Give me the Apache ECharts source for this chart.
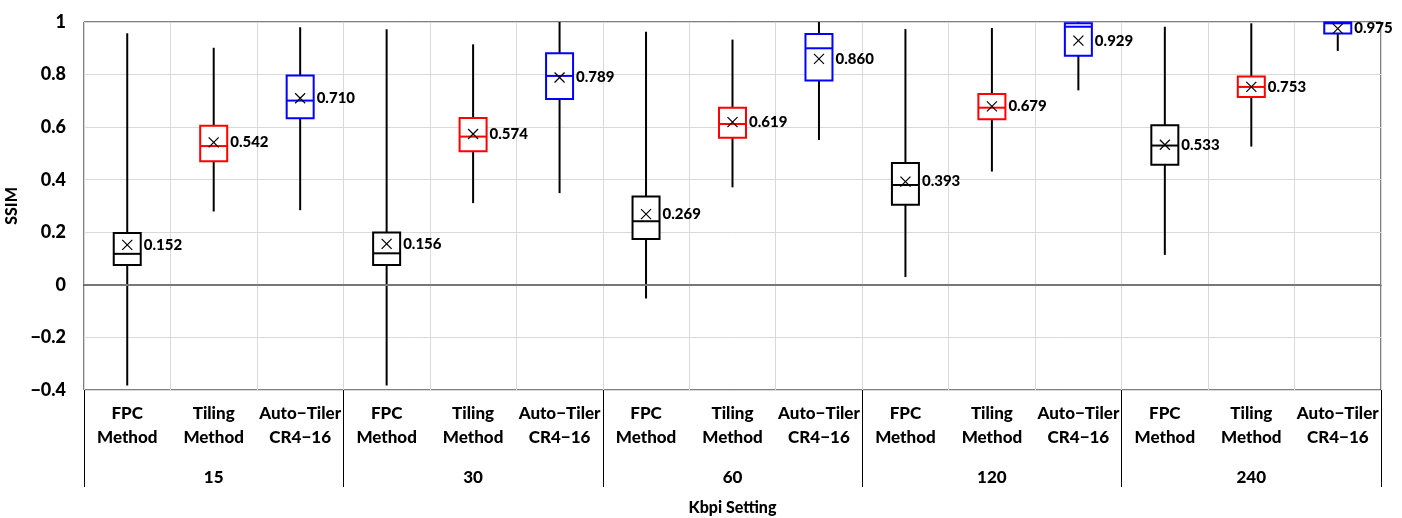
<!DOCTYPE html>
<html>
<head>
<meta charset="utf-8">
<script src="https://cdn.jsdelivr.net/npm/echarts@6/dist/echarts.min.js"></script>
<style>
  html, body { margin: 0; padding: 0; background: #fff; }
  #chart { width: 1402px; height: 518px; }
</style>
</head>
<body>
<div id="chart"></div>
<script>
// categories: 5 kbpi settings x 3 methods
var methods = ['FPC\nMethod', 'Tiling\nMethod', 'Auto\u2212Tiler\nCR4\u221216'];
var groups = ['15', '30', '60', '120', '240'];
var methodColors = ['#000000', '#ff0000', '#0000ff'];

// box statistics, one value per box (15 boxes)
var mins    = [-0.383, 0.279, 0.284, -0.383, 0.311, 0.349, -0.052, 0.371, 0.551, 0.030, 0.431, 0.740, 0.114, 0.526, 0.890];
var q1s     = [0.076, 0.470, 0.634, 0.076, 0.508, 0.707, 0.174, 0.560, 0.777, 0.305, 0.630, 0.872, 0.457, 0.715, 0.956];
var medians = [0.118, 0.528, 0.701, 0.120, 0.564, 0.795, 0.242, 0.612, 0.900, 0.380, 0.674, 0.982, 0.530, 0.753, 0.995];
var q3s     = [0.197, 0.605, 0.796, 0.199, 0.635, 0.881, 0.336, 0.674, 0.954, 0.464, 0.726, 0.995, 0.607, 0.793, 0.998];
var maxs    = [0.957, 0.902, 0.980, 0.972, 0.915, 1.000, 0.963, 0.933, 1.000, 0.973, 0.977, 1.000, 0.982, 0.995, 1.000];
var means   = [0.152, 0.542, 0.710, 0.156, 0.574, 0.789, 0.269, 0.619, 0.860, 0.393, 0.679, 0.929, 0.533, 0.753, 0.975];

var categories = [];
groups.forEach(function () {
    methods.forEach(function (m) { categories.push(m); });
});

var boxData = [];
for (var i = 0; i < categories.length; i++) {
    boxData.push([i, mins[i], q1s[i], medians[i], q3s[i], maxs[i], means[i]]);
}

var FONT = 'Lato';

var myChart = echarts.init(document.getElementById('chart'));

function renderBox(params, api) {
    var idx = api.value(0);
    var color = methodColors[idx % 3];
    var pMin = api.coord([idx, api.value(1)]);
    var pQ1 = api.coord([idx, api.value(2)]);
    var pMed = api.coord([idx, api.value(3)]);
    var pQ3 = api.coord([idx, api.value(4)]);
    var pMax = api.coord([idx, api.value(5)]);
    var pMean = api.coord([idx, api.value(6)]);
    var x = pMed[0];
    var hw = 13.5;
    var xs = 5; // half size of the mean cross
    return {
        type: 'group',
        children: [
            {//whisker
                type: 'line',
                shape: { x1: x, y1: pMax[1], x2: x, y2: pMin[1] },
                style: { stroke: '#000', lineWidth: 2 }
            },
            {//box
                type: 'rect',
                shape: { x: x - hw, y: pQ3[1], width: hw * 2, height: pQ1[1] - pQ3[1] },
                style: { fill: '#fff', stroke: color, lineWidth: 2 }
            },
            {//median
                type: 'line',
                shape: { x1: x - hw, y1: pMed[1], x2: x + hw, y2: pMed[1] },
                style: { stroke: color, lineWidth: 2 }
            },
            {//mean cross
                type: 'line',
                shape: { x1: x - xs, y1: pMean[1] - xs, x2: x + xs, y2: pMean[1] + xs },
                style: { stroke: '#000', lineWidth: 1.2 }
            },
            {
                type: 'line',
                shape: { x1: x - xs, y1: pMean[1] + xs, x2: x + xs, y2: pMean[1] - xs },
                style: { stroke: '#000', lineWidth: 1.2 }
            },
            {//mean label
                type: 'text',
                x: x + hw + 3,
                y: pMean[1],
                style: {
                    text: api.value(6).toFixed(3),
                    fill: '#000',
                    font: '900 15px ' + FONT,
                    verticalAlign: 'middle',
                    align: 'left'
                }
            }
        ]
    };
}

var option = {
    animation: false,
    textStyle: { fontFamily: FONT },
    grid: {
        left: 84,
        top: 22,
        width: 1297,
        height: 368,
        outerBoundsMode: 'none',
        containLabel: false,
        show: true,
        borderColor: '#000',
        borderWidth: 1,
        backgroundColor: 'transparent'
    },
    xAxis: [{
        type: 'category',
        data: categories,
        boundaryGap: true,
        axisLine: { show: true, lineStyle: { color: '#000', width: 1 } },
        axisTick: { show: false },
        splitLine: { show: true, lineStyle: { color: '#d9d9d9', width: 1 } },
        axisLabel: {
            interval: 0,
            margin: 12,
            color: '#000',
            fontWeight: 900,
            fontSize: 17,
            lineHeight: 24,
            fontFamily: FONT
        }
    }, {
        type: 'category',
        data: groups,
        position: 'bottom',
        boundaryGap: true,
        axisLine: { show: false },
        axisTick: { show: true, length: 97, lineStyle: { color: '#000', width: 1 } },
        splitLine: { show: false },
        axisLabel: {
            interval: 0,
            margin: 79,
            color: '#000',
            fontWeight: 900,
            fontSize: 17,
            fontFamily: FONT
        },
        name: 'Kbpi Setting',
        nameLocation: 'middle',
        nameGap: 110,
        nameTextStyle: { color: '#000', fontWeight: 900, fontSize: 16, fontFamily: FONT }
    }],
    yAxis: {
        type: 'value',
        min: -0.4,
        max: 1,
        interval: 0.2,
        axisLine: { show: false },
        axisTick: { show: false },
        splitLine: { show: true, lineStyle: { color: '#d9d9d9', width: 1 } },
        axisLabel: {
            margin: 18,
            color: '#000',
            fontWeight: 900,
            fontSize: 18,
            fontFamily: FONT,
            formatter: function (v) {
                var r = parseFloat(v.toFixed(1));
                return r < 0 ? '\u2212' + Math.abs(r) : String(r);
            }
        },
        name: 'SSIM',
        nameLocation: 'middle',
        nameGap: 53,
        nameRotate: 90,
        nameTextStyle: { color: '#000', fontWeight: 900, fontSize: 16, fontFamily: FONT }
    },
    series: [{
        type: 'custom',
        xAxisIndex: 0,
        yAxisIndex: 0,
        renderItem: renderBox,
        encode: { x: 0, y: [1, 2, 3, 4, 5, 6] },
        data: boxData,
        z: 3,
        markLine: {
            silent: true,
            symbol: 'none',
            label: { show: false },
            lineStyle: { color: '#777', width: 2, type: 'solid' },
            data: [{ yAxis: 0 }]
        }
    }]
};

myChart.setOption(option);
</script>
</body>
</html>
